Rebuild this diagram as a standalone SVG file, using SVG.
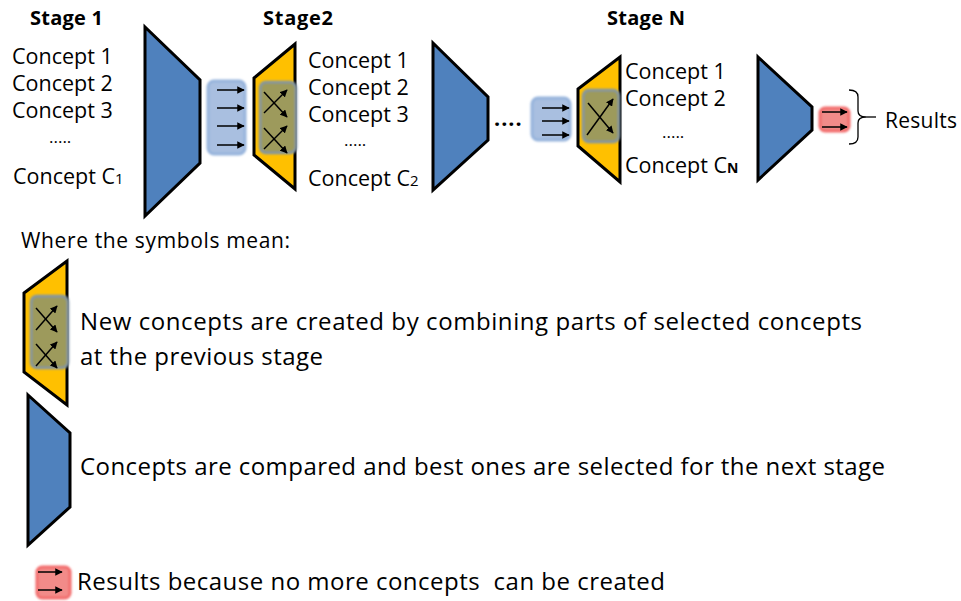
<svg xmlns="http://www.w3.org/2000/svg" width="961" height="601" viewBox="0 0 961 601">
  <defs>
    <style>
      text { font-family: "Open Sans", "Liberation Sans", Arial, sans-serif; fill: #000; white-space: pre; }
      .title { font-size: 20px; font-weight: bold; }
      .concept { font-size: 21.5px; }
      .dots { font-size: 17px; }
      .legend { font-size: 24px; }
      .sel { fill: #4f81bd; stroke: #000; stroke-width: 3; stroke-linejoin: miter; }
      .gen { fill: #ffc000; stroke: #000; stroke-width: 3; stroke-linejoin: miter; }
      .mix { fill: #9d9a5c; stroke: #7f95a8; stroke-width: 2.5; }
      .pass { fill: #a9bfe0; stroke: #95b3dc; stroke-width: 3; }
      .done { fill: #f28b89; stroke: #f26a6a; stroke-width: 3; }
      .arr { stroke: #000; stroke-width: 1.5; fill: none; marker-end: url(#head); }
    </style>
    <marker id="head" viewBox="0 0 10 10" refX="9" refY="5" markerWidth="5" markerHeight="5" orient="auto" markerUnits="strokeWidth">
      <path d="M0,0 L10,5 L0,10 z" fill="#000"/>
    </marker>
    <filter id="soft" x="-20%" y="-20%" width="140%" height="140%">
      <feGaussianBlur stdDeviation="0.8"/>
    </filter>
  </defs>

  <!-- stage headings -->
  <text class="title" x="30" y="25" textLength="73">Stage 1</text>
  <text class="title" x="263" y="25" textLength="70">Stage2</text>
  <text class="title" x="607" y="25" textLength="78">Stage N</text>

  <!-- stage 1 concept list -->
  <g id="list-stage1">
    <text class="concept" x="12" y="64">Concept 1</text>
    <text class="concept" x="12" y="91">Concept 2</text>
    <text class="concept" x="12" y="118">Concept 3</text>
    <text class="dots" x="49" y="143">.....</text>
    <text class="concept" x="13" y="184">Concept C<tspan font-size="15">1</tspan></text>
  </g>

  <!-- stage 1 selection -->
  <g id="select-1">
    <polygon class="sel" points="145,27 200,80 200,163 145,216"/>
  </g>

  <!-- selected concepts passed on -->
  <g id="pass-1">
    <rect class="pass" x="208" y="81" width="37" height="73" rx="6" filter="url(#soft)"/>
  </g>

  <!-- stage 2 generation -->
  <g id="generate-2">
    <polygon class="gen" points="254,78 295,44 295,189 254,155"/>
    <rect class="mix" x="260" y="82" width="36" height="71" rx="6" filter="url(#soft)"/>
  </g>

  <!-- stage 2 concept list -->
  <g id="list-stage2">
    <text class="concept" x="308" y="68">Concept 1</text>
    <text class="concept" x="308" y="95">Concept 2</text>
    <text class="concept" x="308" y="122">Concept 3</text>
    <text class="dots" x="344" y="146">.....</text>
    <text class="concept" x="308" y="186">Concept C<tspan font-size="15">2</tspan></text>
  </g>

  <!-- stage 2 selection -->
  <g id="select-2">
    <polygon class="sel" points="433,43 488,97 488,140 433,190"/>
  </g>

  <text class="concept" x="494" y="126" font-weight="bold" letter-spacing="1">....</text>

  <!-- selected concepts passed on -->
  <g id="pass-n">
    <rect class="pass" x="532" y="98" width="38" height="42" rx="6" filter="url(#soft)"/>
  </g>

  <!-- stage N generation -->
  <g id="generate-n">
    <polygon class="gen" points="578,89 620,57 620,182 578,146"/>
    <rect class="mix" x="583" y="90" width="36" height="52" rx="6" filter="url(#soft)"/>
  </g>

  <!-- stage N concept list -->
  <g id="list-stageN">
    <text class="concept" x="625" y="79">Concept 1</text>
    <text class="concept" x="625" y="106">Concept 2</text>
    <text class="dots" x="662" y="138">.....</text>
    <text class="concept" x="625" y="173">Concept C<tspan font-size="14" font-weight="bold">N</tspan></text>
  </g>

  <!-- final selection -->
  <g id="select-final">
    <polygon class="sel" points="758,57 812,107 812,130 758,180"/>
  </g>

  <!-- results -->
  <g id="results">
    <rect class="done" x="820" y="108" width="29" height="23" rx="5" filter="url(#soft)"/>
    <path d="M849,90 Q858,90 858,97 L858,111 Q858,117 866,117 Q858,117 858,123 L858,137 Q858,144 849,144" fill="none" stroke="#000" stroke-width="1.3"/>
    <line x1="866" y1="117" x2="876" y2="117" stroke="#000" stroke-width="1.3"/>
    <text x="885" y="128" font-size="21" textLength="72">Results</text>
  </g>

  <!-- legend -->
  <text x="21" y="248" font-size="21" textLength="269">Where the symbols mean:</text>

  <g id="legend-generate">
    <polygon class="gen" points="24,293 67,261 67,405 24,372"/>
    <rect class="mix" x="31" y="296" width="37" height="72" rx="6" filter="url(#soft)"/>
    <text class="legend" x="80" y="330" textLength="782">New concepts are created by combining parts of selected concepts</text>
    <text class="legend" x="80" y="365" textLength="243">at the previous stage</text>
  </g>

  <g id="legend-select">
    <polygon class="sel" points="28,395 70,433 70,507 28,545"/>
    <text class="legend" x="80" y="475" textLength="805">Concepts are compared and best ones are selected for the next stage</text>
  </g>

  <g id="legend-results">
    <rect class="done" x="37" y="567" width="33" height="31" rx="5" filter="url(#soft)"/>
    <text class="legend" x="77" y="590" textLength="588">Results because no more concepts  can be created</text>
  </g>

  <!-- connectors: arrows inside the pass/mix/result symbols -->
  <g id="connectors">
    <line class="arr" x1="217" y1="90" x2="244" y2="90"/>
    <line class="arr" x1="217" y1="108" x2="244" y2="108"/>
    <line class="arr" x1="217" y1="126" x2="244" y2="126"/>
    <line class="arr" x1="217" y1="145" x2="244" y2="145"/>

    <line class="arr" x1="264" y1="113" x2="287" y2="90"/>
    <line class="arr" x1="264" y1="92" x2="287" y2="117"/>
    <line class="arr" x1="264" y1="149" x2="287" y2="126"/>
    <line class="arr" x1="264" y1="128" x2="287" y2="153"/>

    <line class="arr" x1="542" y1="108" x2="569" y2="108"/>
    <line class="arr" x1="542" y1="121" x2="569" y2="121"/>
    <line class="arr" x1="542" y1="135" x2="569" y2="135"/>

    <line class="arr" x1="587" y1="135" x2="613" y2="99"/>
    <line class="arr" x1="588" y1="103" x2="613" y2="133"/>

    <line class="arr" x1="822" y1="112" x2="847" y2="112"/>
    <line class="arr" x1="822" y1="127" x2="847" y2="127"/>

    <line class="arr" x1="36" y1="330" x2="57" y2="306"/>
    <line class="arr" x1="36" y1="308" x2="57" y2="332"/>
    <line class="arr" x1="36" y1="366" x2="57" y2="342"/>
    <line class="arr" x1="36" y1="344" x2="57" y2="368"/>

    <line class="arr" x1="38" y1="572" x2="62" y2="572"/>
    <line class="arr" x1="38" y1="590" x2="62" y2="590"/>
  </g>
</svg>
